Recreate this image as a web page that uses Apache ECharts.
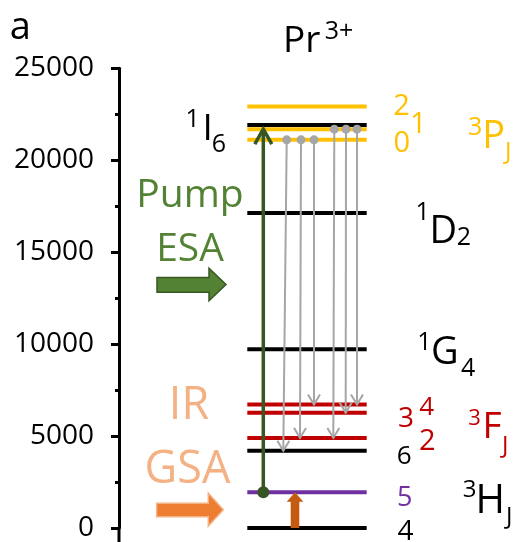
<!DOCTYPE html>
<html><head><meta charset="utf-8">
<script src="https://cdn.jsdelivr.net/npm/echarts@6/dist/echarts.min.js"></script>
<style>html,body{margin:0;padding:0;background:#fff}#c{width:514px;height:542px}</style>
</head><body><div id="c"></div>
<script>
// ---- data ----
const levelNames    = ['3H4','3H5','3H6','3F2','3F3','3F4','1G4','1D2','3P0','3P1','1I6','3P2'];
const levelEnergies = [0, 1950, 4200, 4900, 6270, 6720, 9720, 17130, 21110, 21690, 21920, 22920];
const yTickValues = [0, 5000, 10000, 15000, 20000, 25000];
const yTickLabels = ['0', '5000', '10000', '15000', '20000', '25000'];
const decayFrom = ['3P0','3P0','3P0','3P1','3P1','3P1'];
const decayTo   = ['3H6','3F2','3F4','3F2','3F3','3F4'];
const pumpFrom = '3H5', pumpTo = '3P1';
const gsaFrom = '3H4', gsaTo = '3H5';

// ---- styles / layout ----
const levelColors = ['#000000','#7030a0','#000000','#c00000','#c00000','#c00000','#000000','#000000','#ffc000','#ffc000','#000000','#ffc000'];
const LEVEL_X0 = 128.3, LEVEL_X1 = 247.7;
const decayX0 = [167.7, 182, 195, 215.3, 227, 238];
const decayX1 = [164.3, 181, 195, 214.3, 226.7, 238];
const PUMP_X = 144.3, GSA_X = 176;
const FONT = "'Open Sans', 'Noto Sans', sans-serif";

const E = n => levelEnergies[levelNames.indexOf(n)];

function arrowGroup(a, b, o) {
  const dx = b[0]-a[0], dy = b[1]-a[1], len = Math.hypot(dx, dy);
  const ux = dx/len, uy = dy/len, px = -uy, py = ux;
  const bx = b[0]-ux*o.head, by = b[1]-uy*o.head;
  return {type:'group', children:[
    {type:'line', shape:{x1:a[0],y1:a[1],x2:b[0],y2:b[1]}, style:{stroke:o.color,lineWidth:o.width}},
    {type:'polyline', shape:{points:[[bx+px*o.half,by+py*o.half],[b[0],b[1]],[bx-px*o.half,by-py*o.half]]},
      style:{stroke:o.color,lineWidth:o.width,fill:'none'}},
    {type:'circle', shape:{cx:a[0],cy:a[1],r:o.r}, style:{fill:o.color}}
  ]};
}

const chart = echarts.init(document.getElementById('c'));

function txt(text, fs, color, x, y, align) {
  return {type:'text', x:x, y:y, z:20,
    style:{text:text, fill:color, fontSize:fs, fontFamily:FONT, align:align||'left', verticalAlign:'middle'}};
}
const K='#000000', Y='#ffc000', R='#c00000', PU='#7030a0', G='#548235', O='#f4b183';

const graphics = [
  txt('a', 38, K, 9.7, 27.8),
  txt('Pr', 37, K, 283, 41.9),
  txt('3+', 25, K, 324.7, 31.6),
  txt('1', 25, K, 185.5, 119.5), txt('I', 37, K, 202.4, 129.7), txt('6', 25, K, 211.8, 145.3),
  txt('2', 29, Y, 393.3, 106.6), txt('1', 29, Y, 410.1, 124.6), txt('0', 29, Y, 393.5, 143.8),
  txt('3', 25, Y, 468, 127.6), txt('P', 38, Y, 482.3, 137.2), txt('J', 24, Y, 505, 152),
  txt('1', 25, K, 415.5, 213.1), txt('D', 38, K, 429.6, 231.7), txt('2', 25, K, 456.8, 238.3),
  txt('1', 25, K, 417.2, 342.5), txt('G', 38, K, 431, 352.7), txt('4', 25, K, 461, 368.5),
  txt('3', 28, R, 397.9, 418.7), txt('4', 26, R, 419.2, 407.7), txt('6', 26, K, 396.7, 456.1),
  txt('2', 29, R, 419, 442.1),
  txt('3', 22, R, 468.2, 418.6), txt('F', 37, R, 482.4, 427.7), txt('J', 24, R, 502, 446.3),
  txt('5', 27, PU, 397.1, 498.3), txt('4', 28, K, 397.5, 532),
  txt('3', 24, K, 462.8, 489.7), txt('H', 40, K, 475.4, 501.2), txt('J', 24, K, 506, 517),
  txt('Pump', 39, G, 190, 196, 'center'),
  txt('ESA', 39, G, 190, 250.3, 'center'),
  txt('IR', 45, O, 189, 406.5, 'center'),
  txt('GSA', 45, O, 187.5, 470.5, 'center'),
  {type:'polygon', z:20, shape:{points:[[157,277.5],[209,277.5],[209,268.3],[226,284.5],[209,300.7],[209,292.3],[157,292.3]]},
    style:{fill:'#548235', stroke:'#385723', lineWidth:1.5}},
  {type:'polygon', z:20, shape:{points:[[156.7,503.3],[208.3,503.3],[208.3,493.3],[223.3,509.7],[208.3,526],[208.3,516.7],[156.7,516.7]]},
    style:{fill:'#ed7d31', stroke:'#f4b183', lineWidth:1.5}},
  {type:'line', z:5, shape:{x1:119, y1:529, x2:119, y2:542}, style:{stroke:'#000', lineWidth:3}}
];

chart.setOption({
  animation:false,
  backgroundColor:'#ffffff',
  grid:{left:119, right:0, top:68.3, bottom:12.7, containLabel:false},
  xAxis:{type:'value', min:0, max:395, show:false},
  yAxis:{type:'value', min:0, max:25000, interval:5000,
    axisLine:{show:true, lineStyle:{color:'#000', width:3}},
    axisTick:{show:true, length:8, lineStyle:{color:'#000', width:3}},
    minorTick:{show:true, splitNumber:2, length:4, lineStyle:{color:'#000', width:3}},
    splitLine:{show:false},
    axisLabel:{color:'#000', fontSize:28, fontFamily:FONT, margin:25, padding:[8,0,0,0],
      formatter:v => { const i = yTickValues.indexOf(v); return i >= 0 ? yTickLabels[i] : ''; }}
  },
  graphic:graphics,
  series:[
    {type:'custom', z:2, silent:true,
      data: levelEnergies.map((e,i)=>[LEVEL_X0, LEVEL_X1, e, i]),
      renderItem:(params, api) => {
        const i = api.value(3);
        const a = api.coord([api.value(0), api.value(2)]);
        const b = api.coord([api.value(1), api.value(2)]);
        return {type:'line', shape:{x1:a[0],y1:a[1],x2:b[0],y2:b[1]}, style:{stroke:levelColors[i], lineWidth:4}};
      }},
    {type:'custom', z:3, silent:true,
      data: decayFrom.map((f,i)=>[decayX0[i], E(f), decayX1[i], E(decayTo[i])]),
      renderItem:(params, api) => {
        const a = api.coord([api.value(0), api.value(1)]);
        const b = api.coord([api.value(2), api.value(3)]);
        return arrowGroup(a, b, {color:'#a6a6a6', width:2, head:10, half:6, r:4.5});
      }},
    {type:'custom', z:4, silent:true,
      data: [[PUMP_X, E(pumpFrom), PUMP_X, E(pumpTo)]],
      renderItem:(params, api) => {
        const a = api.coord([api.value(0), api.value(1)]);
        const b = api.coord([api.value(2), api.value(3)]);
        return arrowGroup(a, b, {color:'#375623', width:3.5, head:15, half:8.5, r:6});
      }},
    {type:'custom', z:4, silent:true,
      data: [[GSA_X, E(gsaFrom), E(gsaTo)]],
      renderItem:(params, api) => {
        const a = api.coord([api.value(0), api.value(1)]);
        const b = api.coord([api.value(0), api.value(2)]);
        const x = a[0], sh = 4.3, hh = 8.3, hl = 9.5;
        return {type:'polygon', shape:{points:[[x-sh,a[1]],[x-sh,b[1]+hl],[x-hh,b[1]+hl],[x,b[1]],[x+hh,b[1]+hl],[x+sh,b[1]+hl],[x+sh,a[1]]]},
          style:{fill:'#c55a11'}};
      }}
  ]
});
</script>
</body></html>
